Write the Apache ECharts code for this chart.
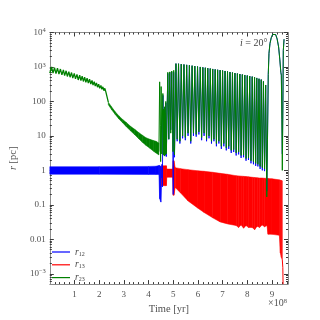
<!DOCTYPE html>
<html><head><meta charset="utf-8">
<script src="https://cdn.jsdelivr.net/npm/echarts@6/dist/echarts.min.js"></script>
<style>html,body{margin:0;padding:0;background:#fff}#c{width:320px;height:320px}</style>
</head><body><div id="c"></div>
<script>
// ---------- DATA (time in units of 1e8 yr, separations r in pc) ----------
const xTickValues = [1, 2, 3, 4, 5, 6, 7, 8, 9];
const yTickExponents = [-3, -2, -1, 0, 1, 2, 3, 4];
const yTickLabels = ['10{sup|−3}', '0.01', '0.1', '1', '10', '100', '10{sup|3}', '10{sup|4}'];

// r23: early hierarchical phase (zigzag)
const r23EarlyT = [0.00,0.07,0.13,0.19,0.25,0.31,0.37,0.43,0.49,0.55,0.60,0.66,0.71,0.77,0.82,0.88,0.93,0.99,1.04,1.10,1.15,1.21,1.26,1.31,1.36,1.41,1.46,1.51,1.56,1.61,1.66,1.71,1.75,1.80,1.84,1.89,1.93,1.98,2.02,2.07,2.11,2.15,2.19,2.23,2.27,2.31,2.34,2.37];
const r23EarlyV = [660,1000,660,960,640,920,620,870,590,820,560,775,530,730,505,690,475,650,450,610,420,575,400,540,380,505,360,470,340,440,320,405,300,375,280,345,260,315,240,290,225,265,205,240,190,210,175,95];

// r23: decaying dense band (lower / upper envelope)
const r23BandT  = [2.37, 2.5, 2.65, 2.8, 2.95, 3.1, 3.27, 3.44, 3.6, 3.75, 3.9, 4.05, 4.2, 4.3, 4.42];
const r23BandLo = [80, 58, 42, 31, 24, 18.5, 14, 10.8, 8.3, 6.5, 5.3, 4.4, 3.6, 3.2, 2.8];
const r23BandHi = [95, 70, 50, 38, 30, 24.5, 19, 15.5, 12.5, 10.5, 8.8, 8, 7.3, 7, 6.2];

// r23: strong-interaction episode
const r23EventT = [4.42,4.45,4.475,4.49,4.51,4.535,4.58,4.6,4.61,4.62,4.63,4.64,4.65,4.66,4.67,4.68,4.7,4.72,4.78,4.82,4.86,4.9,4.94,4.99,5.02];
const r23EventV = [3.5,370,20,1.8,270,3,170,2.8,60,3,50,2.6,70,3,45,2.8,100,3,700,8,720,12,760,3.5,800];

// r12: early inner binary band, then dip
const r12BandT  = [0, 2, 4, 4.3, 4.42, 4.45, 4.5, 4.53];
const r12BandLo = [0.77, 0.77, 0.76, 0.76, 0.76, 0.15, 0.12, 0.6];
const r12BandHi = [1.28, 1.28, 1.3, 1.32, 1.38, 1.38, 1.3, 1.0];

// r12: episode after exchange
const r12EventT = [4.53,4.545,4.56,4.585,4.61,4.64,4.66,4.7,4.72,4.78,4.82,4.86,4.9,4.94,4.98,5.0,5.02];
const r12EventV = [0.6,1.5,0.33,150,3,50,2.6,90,2.5,650,8,700,15,720,10,0.2,700];

// late eccentric outer orbit (r12 and r23 nearly coincide): troughs and peaks
const lateTroughT   = [5.05,5.16,5.27,5.38,5.49,5.60,5.71,5.82,5.93,6.04,6.15,6.25,6.35,6.45,6.55,6.65,6.75,6.85,6.95,7.05,7.15,7.25,7.35,7.45,7.55,7.65,7.75,7.85,7.95,8.05,8.15,8.25,8.34,8.43,8.52,8.61,8.70];
const lateTroughR23 = [2.8,8,7,10,9,12,7,12,11,13,9,12,8,10,7,8,6,7,5,6,4.5,5,3.8,4,3.2,3.4,2.7,2.8,2.2,2.3,1.9,1.8,1.6,1.5,1.3,1.2,1.1];
const lateTroughR12 = [2.4,7,6,8.5,7.5,10,6,10,9.5,11,7.5,10,7,8.5,6,7,5,6,4.2,5,3.8,4.2,3.2,3.4,2.7,2.9,2.3,2.4,1.9,2,1.6,1.5,1.35,1.3,1.1,1.0,0.95];
const latePeakT     = [5.11,5.215,5.325,5.435,5.545,5.655,5.765,5.875,5.985,6.095,6.2,6.3,6.4,6.5,6.6,6.7,6.8,6.9,7.0,7.1,7.2,7.3,7.4,7.5,7.6,7.7,7.8,7.9,8.0,8.1,8.2,8.295,8.385,8.475,8.565,8.655,8.745];
const latePeakV     = [1250,1240,1210,1180,1150,1120,1090,1060,1030,1000,975,950,925,900,875,850,830,810,790,765,740,715,690,665,645,625,605,585,565,545,525,505,480,455,430,380,300];

// final wide excursion
const r23EndT = [8.79,8.82,8.85,8.88,8.92,8.97,9.03,9.09,9.15,9.21,9.27,9.32,9.36,9.38,9.40,9.42,9.44,9.46,9.49];
const r23EndV = [0.17,8,600,2500,4800,7000,8800,9400,8700,6500,3800,1600,700,580,30,1,40,3000,6400];
const r12EndT = [8.79,8.82,8.85,8.88,8.92,8.97,9.03,9.09,9.15,9.21,9.27,9.32,9.36,9.38,9.40,9.42,9.44,9.46,9.49];
const r12EndV = [0.25,9,610,2500,4800,7000,8800,9400,8700,6500,3800,1600,700,580,60,3,60,3000,6400];

// r13: new inner binary band (lower / upper envelope)
const r13BandT  = [4.53,4.72,4.74,4.98,5.0,5.03,5.08,5.3,5.6,6.0,6.25,6.6,6.9,7.2,7.55,7.65,7.75,7.85,7.95,8.05,8.2,8.3,8.4,8.5,8.6,8.7,8.8,8.84,9.0,9.3,9.34,9.38,9.42];
const r13BandLo = [0.36,0.36,0.63,0.63,0.19,0.19,0.32,0.22,0.13,0.08,0.06,0.042,0.032,0.028,0.025,0.022,0.026,0.021,0.025,0.022,0.022,0.019,0.024,0.022,0.026,0.023,0.025,0.014,0.014,0.013,0.004,0.003,0.0025];
const r13BandHi = [1.36,1.36,1.09,1.09,1.9,1.9,1.2,1.12,1.05,0.97,0.94,0.88,0.82,0.77,0.7,0.69,0.68,0.67,0.66,0.65,0.63,0.62,0.61,0.6,0.6,0.59,0.59,0.58,0.57,0.53,0.52,0.51,0.5];
const r13TailT = [9.42, 9.44, 9.45];
const r13TailV = [0.0025, 0.0015, 0.0005];

// ---------- BUILD ----------
const XMIN = 0, XMAX = 9.65, YMIN = -3.3, YMAX = 4;
const C12 = '#0000ff', C13 = '#ff0000', C23 = '#008000';
const L = Math.log10;
const FONT = 'Liberation Serif';

function pts(T, V) { return T.map((t, i) => [t, L(V[i])]); }
function interleave(tA, vA, tB, vB) {
  const out = [];
  for (let i = 0; i < tA.length; i++) { out.push([tA[i], L(vA[i])]); if (i < tB.length) out.push([tB[i], L(vB[i])]); }
  return out;
}
// dense oscillation drawn as filled band between lower and upper envelope
function band(T, lo, hi, color) {
  const data = [];
  for (let i = 0; i < T.length - 1; i++) {
    data.push([T[i], L(lo[i]), L(hi[i]), T[i + 1], L(lo[i + 1]), L(hi[i + 1])]);
  }
  return {
    type: 'custom', silent: true, clip: true, data: data,
    dimensions: ['t0', 'lo0', 'hi0', 't1', 'lo1', 'hi1'],
    encode: { x: [0, 3], y: [1, 2, 4, 5] },
    renderItem: function (params, api) {
      const p = [
        api.coord([api.value(0), api.value(1)]),
        api.coord([api.value(3), api.value(4)]),
        api.coord([api.value(3), api.value(5)]),
        api.coord([api.value(0), api.value(2)])
      ];
      return { type: 'polygon', shape: { points: p }, style: { fill: color, stroke: color, lineWidth: 0.5 } };
    }
  };
}
function line(name, data, color, w) {
  return { type: 'line', name: name, data: data, symbol: 'none', showSymbol: false, silent: true,
    lineStyle: { color: color, width: w || 1 }, itemStyle: { color: color } };
}

const r12Path = pts(r12EventT, r12EventV).concat(interleave(lateTroughT, lateTroughR12, latePeakT, latePeakV), pts(r12EndT, r12EndV));
const r23Path = pts(r23EventT, r23EventV).concat(interleave(lateTroughT, lateTroughR23, latePeakT, latePeakV), pts(r23EndT, r23EndV));

const series = [
  line('r12', r12Path, C12, 0.9),
  band(r12BandT, r12BandLo, r12BandHi, C12),
  line('r13', pts(r13TailT, r13TailV), C13, 1),
  band(r13BandT, r13BandLo, r13BandHi, C13),
  band(r23BandT, r23BandLo, r23BandHi, C23),
  line('r23', pts(r23EarlyT, r23EarlyV), C23, 1.3),
  line('r23', r23Path, C23, 1)
];

// ticks
const minorX = [];
for (let i = 1; i <= 48; i++) { const v = +(i * 0.2).toFixed(1); if (Math.abs(v - Math.round(v)) > 1e-6) minorX.push(v); }
const minorY = [];
for (let n = -4; n < 4; n++) for (let k = 2; k <= 9; k++) { const v = n + L(k); if (v > YMIN && v < YMAX) minorY.push(v); }

const labelStyle = { color: '#505050', fontFamily: FONT, fontSize: 9 };
function xAx(pos, vals, len, main, labels) {
  return { type: 'value', min: XMIN, max: XMAX, position: pos,
    axisLine: { show: main, onZero: false, lineStyle: { color: '#8c8c8c', width: 1 } },
    axisTick: { show: true, inside: true, length: len, customValues: vals, lineStyle: { color: '#3a3a3a', width: 1 } },
    axisLabel: Object.assign({ show: labels, customValues: vals, margin: 6, formatter: v => String(Math.round(v)) }, labelStyle),
    splitLine: { show: false } };
}
function yAx(pos, vals, len, main, labels) {
  return { type: 'value', min: YMIN, max: YMAX, position: pos,
    axisLine: { show: main, onZero: false, lineStyle: { color: '#8c8c8c', width: 1 } },
    axisTick: { show: true, inside: true, length: len, customValues: vals, lineStyle: { color: '#3a3a3a', width: 1 } },
    axisLabel: Object.assign({ show: labels, customValues: vals, margin: 4,
      formatter: v => { const i = yTickExponents.indexOf(Math.round(v)); return i >= 0 ? yTickLabels[i] : ''; },
      rich: { sup: { fontSize: 6.5, fontFamily: FONT, color: '#505050', verticalAlign: 'top', padding: [0, 0, 4, 0] } } }, labelStyle),
    splitLine: { show: false } };
}

const xAxes = [
  Object.assign(xAx('bottom', xTickValues, 4, true, true), { name: 'Time [yr]', nameLocation: 'middle', nameGap: 11,
    nameTextStyle: { fontFamily: FONT, fontSize: 10.5, color: '#505050' } }),
  xAx('bottom', minorX, 2, false, false),
  xAx('top', xTickValues, 4, true, false),
  xAx('top', minorX, 2, false, false)
];
const yAxes = [
  Object.assign(yAx('left', yTickExponents, 4, true, true), { name: '{it|r} [pc]', nameLocation: 'middle', nameGap: 27, nameRotate: 90,
    nameTextStyle: { fontFamily: FONT, fontSize: 10.5, color: '#505050', rich: { it: { fontStyle: 'italic', fontFamily: FONT, fontSize: 10.5, color: '#505050' } } } }),
  yAx('left', minorY, 2, false, false),
  yAx('right', yTickExponents, 4, true, false),
  yAx('right', minorY, 2, false, false)
];

const chart = echarts.init(document.getElementById('c'), null, { renderer: 'canvas' });
chart.setOption({
  backgroundColor: '#fff',
  animation: false,
  grid: { left: 40, right: 32, top: 32.5, bottom: 33 },
  xAxis: xAxes,
  yAxis: yAxes,
  legend: {
    data: [{ name: 'r12', icon: 'rect' }, { name: 'r13', icon: 'rect' }, { name: 'r23', icon: 'rect' }],
    orient: 'vertical', left: 47, top: 242,
    itemWidth: 18, itemHeight: 1.2, itemGap: 2.8, selectedMode: false,
    formatter: n => '{it|r}{sub|' + n.slice(1) + '}',
    textStyle: { fontFamily: FONT, color: '#444', fontSize: 9,
      rich: { it: { fontStyle: 'italic', fontFamily: FONT, fontSize: 9.5, color: '#444' },
              sub: { fontFamily: FONT, fontSize: 6, color: '#444', verticalAlign: 'bottom', padding: [4, 0, 0, 0] } } }
  },
  graphic: [
    { type: 'text', left: 240, top: 38, silent: true,
      style: { text: '{it|i} = 20°', fill: '#444', font: '10px "Liberation Serif"',
        rich: { it: { fontStyle: 'italic', fontFamily: FONT, fontSize: 10, fill: '#444' } } } },
    { type: 'text', left: 268, top: 298, silent: true,
      style: { text: '×10{s|8}', fill: '#505050', font: '10px "Liberation Serif"',
        rich: { s: { fontFamily: FONT, fontSize: 6.5, fill: '#505050', verticalAlign: 'top' } } } }
  ],
  series: series
});
</script>
</body></html>
